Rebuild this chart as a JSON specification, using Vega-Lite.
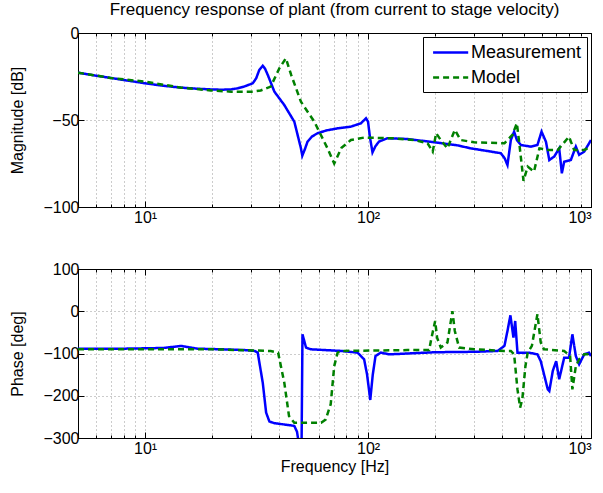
{
  "$schema": "https://vega.github.io/schema/vega-lite/v6.json",
  "padding": {"left": 8, "top": 0, "right": 5, "bottom": 0},
  "background": "white",
  "config": {
    "font": "Liberation Sans",
    "view": {"stroke": "black", "strokeWidth": 1},
    "axis": {
      "labelFont": "Liberation Sans", "labelFontSize": 16, "labelColor": "black",
      "titleFont": "Liberation Sans", "titleFontSize": 16, "titleFontWeight": "normal", "titleColor": "black",
      "domainColor": "black", "tickColor": "black",
      "grid": true, "gridColor": "#000", "gridDash": [1, 3], "gridOpacity": 0.4, "gridWidth": 1
    },
    "legend": {
      "labelFont": "Liberation Sans", "labelFontSize": 18, "labelColor": "black",
      "strokeColor": "black", "fillColor": "white", "padding": 5,
      "symbolType": "M-0.6,0H3.3", "symbolSize": 324, "symbolStrokeWidth": 2.5, "rowPadding": 5,
      "labelOffset": 22
    },
    "title": {"font": "Liberation Sans", "fontSize": 17, "fontWeight": "normal", "color": "black"}
  },
  "datasets": {
    "mag": [
      {"f": 5, "s": "Measurement", "v": -22.8}, {"f": 6, "s": "Measurement", "v": -24.5}, {"f": 7, "s": "Measurement", "v": -25.8},
      {"f": 8, "s": "Measurement", "v": -27}, {"f": 10, "s": "Measurement", "v": -28.9}, {"f": 12, "s": "Measurement", "v": -30.3},
      {"f": 14.5, "s": "Measurement", "v": -31.4}, {"f": 17, "s": "Measurement", "v": -32}, {"f": 19.7, "s": "Measurement", "v": -32.4},
      {"f": 22, "s": "Measurement", "v": -32.6}, {"f": 24.3, "s": "Measurement", "v": -32.4}, {"f": 26, "s": "Measurement", "v": -31.8},
      {"f": 27.8, "s": "Measurement", "v": -30.8}, {"f": 30.4, "s": "Measurement", "v": -28.9}, {"f": 31.5, "s": "Measurement", "v": -26},
      {"f": 32.5, "s": "Measurement", "v": -21.3}, {"f": 33.7, "s": "Measurement", "v": -18.8}, {"f": 34.5, "s": "Measurement", "v": -20.5},
      {"f": 35.5, "s": "Measurement", "v": -24.1}, {"f": 38, "s": "Measurement", "v": -33.7}, {"f": 42.1, "s": "Measurement", "v": -41.4},
      {"f": 46.7, "s": "Measurement", "v": -51}, {"f": 50, "s": "Measurement", "v": -66.3}, {"f": 50.7, "s": "Measurement", "v": -70.5},
      {"f": 52, "s": "Measurement", "v": -67}, {"f": 53.5, "s": "Measurement", "v": -62.5}, {"f": 56, "s": "Measurement", "v": -59.5},
      {"f": 59.4, "s": "Measurement", "v": -57.6}, {"f": 65, "s": "Measurement", "v": -56}, {"f": 73, "s": "Measurement", "v": -54.8},
      {"f": 83.8, "s": "Measurement", "v": -53.8}, {"f": 92.9, "s": "Measurement", "v": -51.9}, {"f": 97.9, "s": "Measurement", "v": -49},
      {"f": 100, "s": "Measurement", "v": -51}, {"f": 102, "s": "Measurement", "v": -60}, {"f": 104.7, "s": "Measurement", "v": -68.6},
      {"f": 108, "s": "Measurement", "v": -65}, {"f": 112, "s": "Measurement", "v": -62.4}, {"f": 122, "s": "Measurement", "v": -60.5},
      {"f": 150, "s": "Measurement", "v": -60.9}, {"f": 198, "s": "Measurement", "v": -62.8}, {"f": 250, "s": "Measurement", "v": -64.5},
      {"f": 289, "s": "Measurement", "v": -66.3}, {"f": 350, "s": "Measurement", "v": -68}, {"f": 394, "s": "Measurement", "v": -69.1},
      {"f": 410, "s": "Measurement", "v": -72}, {"f": 422, "s": "Measurement", "v": -75.9}, {"f": 437, "s": "Measurement", "v": -61.5},
      {"f": 452, "s": "Measurement", "v": -56.7}, {"f": 465, "s": "Measurement", "v": -61.5}, {"f": 485, "s": "Measurement", "v": -64.4},
      {"f": 537, "s": "Measurement", "v": -65.3}, {"f": 575, "s": "Measurement", "v": -64.4}, {"f": 600, "s": "Measurement", "v": -56.7},
      {"f": 628, "s": "Measurement", "v": -62.5}, {"f": 650, "s": "Measurement", "v": -73}, {"f": 684, "s": "Measurement", "v": -71},
      {"f": 720, "s": "Measurement", "v": -66.3}, {"f": 740, "s": "Measurement", "v": -80.6}, {"f": 758, "s": "Measurement", "v": -74},
      {"f": 812, "s": "Measurement", "v": -73}, {"f": 855, "s": "Measurement", "v": -65.3}, {"f": 885, "s": "Measurement", "v": -70},
      {"f": 932, "s": "Measurement", "v": -68.2}, {"f": 1000, "s": "Measurement", "v": -61.5},
      {"f": 5, "s": "Model", "v": -22.8}, {"f": 7, "s": "Model", "v": -25.8}, {"f": 10, "s": "Model", "v": -28},
      {"f": 14.5, "s": "Model", "v": -31.4}, {"f": 19.7, "s": "Model", "v": -33}, {"f": 24.3, "s": "Model", "v": -33.7},
      {"f": 30.4, "s": "Model", "v": -33.7}, {"f": 33, "s": "Model", "v": -33}, {"f": 36.6, "s": "Model", "v": -30.8},
      {"f": 40, "s": "Model", "v": -20.3}, {"f": 42.8, "s": "Model", "v": -14.5}, {"f": 45.2, "s": "Model", "v": -24.1},
      {"f": 50, "s": "Model", "v": -39.5}, {"f": 57.4, "s": "Model", "v": -51}, {"f": 65.8, "s": "Model", "v": -66.3},
      {"f": 70.5, "s": "Model", "v": -75}, {"f": 76, "s": "Model", "v": -66}, {"f": 83.8, "s": "Model", "v": -61.5},
      {"f": 96, "s": "Model", "v": -60.1}, {"f": 130, "s": "Model", "v": -60.5}, {"f": 160.5, "s": "Model", "v": -61.5},
      {"f": 185, "s": "Model", "v": -63.4}, {"f": 195, "s": "Model", "v": -68.2}, {"f": 202, "s": "Model", "v": -57.6},
      {"f": 212, "s": "Model", "v": -61.5}, {"f": 227, "s": "Model", "v": -66.3}, {"f": 245, "s": "Model", "v": -55.7},
      {"f": 260, "s": "Model", "v": -61.5}, {"f": 299, "s": "Model", "v": -62.8}, {"f": 409, "s": "Model", "v": -63.4},
      {"f": 444, "s": "Model", "v": -58.6}, {"f": 465, "s": "Model", "v": -51.9}, {"f": 476, "s": "Model", "v": -62.5},
      {"f": 498, "s": "Model", "v": -85}, {"f": 520, "s": "Model", "v": -76.8}, {"f": 555, "s": "Model", "v": -79.7},
      {"f": 587, "s": "Model", "v": -66.3}, {"f": 640, "s": "Model", "v": -67.2}, {"f": 710, "s": "Model", "v": -67.2},
      {"f": 797, "s": "Model", "v": -59.6}, {"f": 840, "s": "Model", "v": -67.2}, {"f": 932, "s": "Model", "v": -67.2},
      {"f": 1000, "s": "Model", "v": -65.3}
    ],
    "phase": [
      {"f": 5, "s": "Measurement", "v": -88.6}, {"f": 8, "s": "Measurement", "v": -88.6}, {"f": 12, "s": "Measurement", "v": -87},
      {"f": 14.5, "s": "Measurement", "v": -82.2}, {"f": 17.2, "s": "Measurement", "v": -88.6}, {"f": 22, "s": "Measurement", "v": -90},
      {"f": 28, "s": "Measurement", "v": -92}, {"f": 31, "s": "Measurement", "v": -94}, {"f": 32, "s": "Measurement", "v": -98},
      {"f": 33.7, "s": "Measurement", "v": -169}, {"f": 34.9, "s": "Measurement", "v": -240}, {"f": 36.1, "s": "Measurement", "v": -261},
      {"f": 38, "s": "Measurement", "v": -265}, {"f": 45, "s": "Measurement", "v": -270}, {"f": 46.7, "s": "Measurement", "v": -271.6},
      {"f": 48, "s": "Measurement", "v": -285}, {"f": 49.5, "s": "Measurement", "v": -330}, {"f": 50.3, "s": "Measurement", "v": -330},
      {"f": 50.8, "s": "Measurement", "v": -54.6}, {"f": 52.7, "s": "Measurement", "v": -86}, {"f": 55.2, "s": "Measurement", "v": -90},
      {"f": 76, "s": "Measurement", "v": -94}, {"f": 89.7, "s": "Measurement", "v": -98}, {"f": 96, "s": "Measurement", "v": -113.7},
      {"f": 99, "s": "Measurement", "v": -150}, {"f": 102.3, "s": "Measurement", "v": -210}, {"f": 105, "s": "Measurement", "v": -150},
      {"f": 108, "s": "Measurement", "v": -106}, {"f": 114, "s": "Measurement", "v": -98}, {"f": 124.6, "s": "Measurement", "v": -102},
      {"f": 200, "s": "Measurement", "v": -97}, {"f": 300, "s": "Measurement", "v": -96}, {"f": 381, "s": "Measurement", "v": -94},
      {"f": 409, "s": "Measurement", "v": -82}, {"f": 422, "s": "Measurement", "v": -46.7}, {"f": 435, "s": "Measurement", "v": -9.6},
      {"f": 449, "s": "Measurement", "v": -62.6}, {"f": 457, "s": "Measurement", "v": -23}, {"f": 468, "s": "Measurement", "v": -98},
      {"f": 527, "s": "Measurement", "v": -98}, {"f": 575, "s": "Measurement", "v": -102}, {"f": 595, "s": "Measurement", "v": -118},
      {"f": 640, "s": "Measurement", "v": -185}, {"f": 650, "s": "Measurement", "v": -189}, {"f": 674, "s": "Measurement", "v": -141},
      {"f": 698, "s": "Measurement", "v": -118}, {"f": 720, "s": "Measurement", "v": -161}, {"f": 758, "s": "Measurement", "v": -110},
      {"f": 797, "s": "Measurement", "v": -110}, {"f": 825, "s": "Measurement", "v": -54.6}, {"f": 855, "s": "Measurement", "v": -106},
      {"f": 885, "s": "Measurement", "v": -125.6}, {"f": 932, "s": "Measurement", "v": -102}, {"f": 980, "s": "Measurement", "v": -98},
      {"f": 1000, "s": "Measurement", "v": -106},
      {"f": 5, "s": "Model", "v": -90}, {"f": 20, "s": "Model", "v": -90}, {"f": 36.6, "s": "Model", "v": -94},
      {"f": 39.5, "s": "Model", "v": -98}, {"f": 42.1, "s": "Model", "v": -169}, {"f": 44.2, "s": "Model", "v": -248},
      {"f": 46.7, "s": "Model", "v": -264}, {"f": 61.6, "s": "Model", "v": -264}, {"f": 64.6, "s": "Model", "v": -256},
      {"f": 68, "s": "Model", "v": -220}, {"f": 70.5, "s": "Model", "v": -130}, {"f": 73, "s": "Model", "v": -98},
      {"f": 76, "s": "Model", "v": -94}, {"f": 150, "s": "Model", "v": -92}, {"f": 188, "s": "Model", "v": -92},
      {"f": 192, "s": "Model", "v": -66}, {"f": 200, "s": "Model", "v": -23}, {"f": 204, "s": "Model", "v": -62.6},
      {"f": 212, "s": "Model", "v": -86}, {"f": 227, "s": "Model", "v": -74}, {"f": 239, "s": "Model", "v": 0},
      {"f": 245, "s": "Model", "v": -46.7}, {"f": 256, "s": "Model", "v": -86}, {"f": 300, "s": "Model", "v": -90},
      {"f": 409, "s": "Model", "v": -94}, {"f": 437, "s": "Model", "v": -94}, {"f": 452, "s": "Model", "v": -102},
      {"f": 468, "s": "Model", "v": -185}, {"f": 481, "s": "Model", "v": -228}, {"f": 492, "s": "Model", "v": -208},
      {"f": 508, "s": "Model", "v": -130}, {"f": 520, "s": "Model", "v": -98}, {"f": 543, "s": "Model", "v": -82},
      {"f": 575, "s": "Model", "v": -7}, {"f": 595, "s": "Model", "v": -74}, {"f": 615, "s": "Model", "v": -90},
      {"f": 758, "s": "Model", "v": -94}, {"f": 806, "s": "Model", "v": -106}, {"f": 825, "s": "Model", "v": -185},
      {"f": 855, "s": "Model", "v": -130}, {"f": 885, "s": "Model", "v": -113.7}, {"f": 932, "s": "Model", "v": -102},
      {"f": 1000, "s": "Model", "v": -102}
    ]
  },
  "spacing": 28,
  "vconcat": [
    {
      "width": 513, "height": 174,
      "title": {"text": "Frequency response of plant (from current to stage velocity)", "anchor": "middle", "offset": 6},
      "data": {"name": "mag"},
      "layer": [
        {
          "mark": {"type": "line", "strokeWidth": 2.5, "clip": true},
          "encoding": {
            "x": {"field": "f", "type": "quantitative",
              "scale": {"type": "log", "domain": [5, 1000], "nice": false},
              "axis": {"title": null,
                "values": [5,6,7,8,9,10,20,30,40,50,60,70,80,90,100,200,300,400,500,600,700,800,900,1000],
                "labelExpr": "datum.value == 10 ? '10¹' : datum.value == 100 ? '10²' : datum.value == 1000 ? '10³' : ''",
                "tickSize": {"condition": {"test": "datum.value == 10 || datum.value == 100 || datum.value == 1000", "value": -6}, "value": -3},
                "labelPadding": 8, "minExtent": 24, "maxExtent": 24}},
            "y": {"field": "v", "type": "quantitative",
              "scale": {"domain": [-100, 0], "nice": false},
              "axis": {"title": "Magnitude [dB]", "values": [-100, -50, 0], "tickSize": -6, "labelPadding": 5,
                "titlePadding": 12, "minExtent": 41, "maxExtent": 41}},
            "color": {"field": "s", "type": "nominal",
              "scale": {"domain": ["Measurement", "Model"], "range": ["#0000ff", "#008000"]},
              "legend": {"title": null, "orient": "top-right", "offset": 4}},
            "strokeDash": {"field": "s", "type": "nominal",
              "scale": {"domain": ["Measurement", "Model"], "range": [[1, 0], [6, 4]]},
              "legend": {"title": null, "orient": "top-right", "offset": 4}}
          }
        },
        {
          "mark": {"type": "line", "opacity": 0, "clip": true},
          "encoding": {
            "x": {"field": "f", "type": "quantitative",
              "scale": {"type": "log", "domain": [5, 1000], "nice": false},
              "axis": {"orient": "top", "title": null, "labels": false, "grid": false, "domain": false,
                "values": [5,6,7,8,9,10,20,30,40,50,60,70,80,90,100,200,300,400,500,600,700,800,900,1000],
                "tickSize": {"condition": {"test": "datum.value == 10 || datum.value == 100 || datum.value == 1000", "value": -6}, "value": -3},
                "minExtent": 0, "maxExtent": 0}},
            "y": {"field": "v", "type": "quantitative",
              "scale": {"domain": [-100, 0], "nice": false},
              "axis": {"orient": "right", "title": null, "labels": false, "grid": false, "domain": false,
                "values": [-100, -50, 0], "tickSize": -6, "minExtent": 0, "maxExtent": 0}},
            "detail": {"field": "s", "type": "nominal"}
          }
        }
      ],
      "resolve": {"axis": {"x": "independent", "y": "independent"}}
    },
    {
      "width": 513, "height": 169,
      "data": {"name": "phase"},
      "layer": [
        {
          "mark": {"type": "line", "strokeWidth": 2.5, "clip": true},
          "encoding": {
            "x": {"field": "f", "type": "quantitative",
              "scale": {"type": "log", "domain": [5, 1000], "nice": false},
              "axis": {"title": "Frequency [Hz]",
                "values": [5,6,7,8,9,10,20,30,40,50,60,70,80,90,100,200,300,400,500,600,700,800,900,1000],
                "labelExpr": "datum.value == 10 ? '10¹' : datum.value == 100 ? '10²' : datum.value == 1000 ? '10³' : ''",
                "tickSize": {"condition": {"test": "datum.value == 10 || datum.value == 100 || datum.value == 1000", "value": -6}, "value": -3},
                "labelPadding": 8, "titlePadding": 2}},
            "y": {"field": "v", "type": "quantitative",
              "scale": {"domain": [-300, 100], "nice": false},
              "axis": {"title": "Phase [deg]", "values": [-300, -200, -100, 0, 100], "tickSize": -6, "labelPadding": 5,
                "titlePadding": 12, "minExtent": 41, "maxExtent": 41}},
            "color": {"field": "s", "type": "nominal",
              "scale": {"domain": ["Measurement", "Model"], "range": ["#0000ff", "#008000"]},
              "legend": null},
            "strokeDash": {"field": "s", "type": "nominal",
              "scale": {"domain": ["Measurement", "Model"], "range": [[1, 0], [6, 4]]},
              "legend": null}
          }
        },
        {
          "mark": {"type": "line", "opacity": 0, "clip": true},
          "encoding": {
            "x": {"field": "f", "type": "quantitative",
              "scale": {"type": "log", "domain": [5, 1000], "nice": false},
              "axis": {"orient": "top", "title": null, "labels": false, "grid": false, "domain": false,
                "values": [5,6,7,8,9,10,20,30,40,50,60,70,80,90,100,200,300,400,500,600,700,800,900,1000],
                "tickSize": {"condition": {"test": "datum.value == 10 || datum.value == 100 || datum.value == 1000", "value": -6}, "value": -3},
                "minExtent": 0, "maxExtent": 0}},
            "y": {"field": "v", "type": "quantitative",
              "scale": {"domain": [-300, 100], "nice": false},
              "axis": {"orient": "right", "title": null, "labels": false, "grid": false, "domain": false,
                "values": [-300, -200, -100, 0, 100], "tickSize": -6, "minExtent": 0, "maxExtent": 0}},
            "detail": {"field": "s", "type": "nominal"}
          }
        }
      ],
      "resolve": {"axis": {"x": "independent", "y": "independent"}}
    }
  ],
  "resolve": {"scale": {"color": "independent", "strokeDash": "independent"}}
}
